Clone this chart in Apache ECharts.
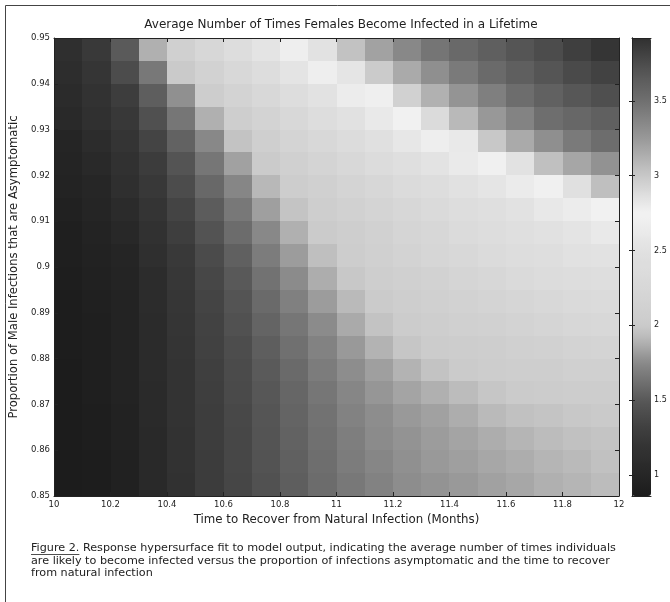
<!DOCTYPE html>
<html>
<head>
<meta charset="utf-8">
<title>Average Number of Times Females Become Infected in a Lifetime</title>
<script src="https://cdn.jsdelivr.net/npm/echarts@6/dist/echarts.min.js"></script>
<style>
  html, body { margin: 0; padding: 0; background: #fff; }
  #chart { width: 670px; height: 602px; }
</style>
</head>
<body>
<div id="chart"></div>
<script>
// cell centres of the fitted surface
const xCenters = [10.05, 10.15, 10.25, 10.35, 10.45, 10.55, 10.65, 10.75, 10.85, 10.95,
                  11.05, 11.15, 11.25, 11.35, 11.45, 11.55, 11.65, 11.75, 11.85, 11.95];
// top row first
const yCenters = [0.9475, 0.9425, 0.9375, 0.9325, 0.9275, 0.9225, 0.9175, 0.9125, 0.9075, 0.9025,
                  0.8975, 0.8925, 0.8875, 0.8825, 0.8775, 0.8725, 0.8675, 0.8625, 0.8575, 0.8525];

// average number of infections (rows follow yCenters)
const surface = [
  [1.13, 1.25, 1.51, 1.88, 2.11, 2.26, 2.40, 2.55, 2.69, 2.85, 3.03, 3.20, 3.35, 3.47, 3.55, 3.62, 3.69, 3.75, 3.83, 3.89],
  [1.10, 1.21, 1.41, 1.66, 2.00, 2.14, 2.27, 2.41, 2.55, 2.68, 2.83, 2.98, 3.16, 3.31, 3.44, 3.54, 3.62, 3.69, 3.76, 3.81],
  [1.07, 1.17, 1.29, 1.53, 1.77, 2.04, 2.16, 2.28, 2.40, 2.52, 2.65, 2.77, 2.95, 3.12, 3.28, 3.41, 3.52, 3.60, 3.67, 3.73],
  [1.04, 1.14, 1.24, 1.44, 1.65, 1.88, 2.06, 2.17, 2.28, 2.39, 2.50, 2.61, 2.72, 2.89, 3.08, 3.25, 3.38, 3.51, 3.56, 3.61],
  [0.99, 1.09, 1.20, 1.35, 1.55, 1.74, 1.96, 2.08, 2.18, 2.28, 2.38, 2.48, 2.58, 2.68, 2.81, 3.00, 3.16, 3.31, 3.44, 3.52],
  [0.97, 1.05, 1.16, 1.28, 1.47, 1.65, 1.83, 2.01, 2.10, 2.18, 2.27, 2.36, 2.45, 2.53, 2.62, 2.71, 2.85, 3.04, 3.18, 3.29],
  [0.95, 1.00, 1.12, 1.24, 1.41, 1.58, 1.73, 1.91, 2.04, 2.11, 2.19, 2.26, 2.34, 2.41, 2.49, 2.56, 2.64, 2.71, 2.86, 3.05],
  [0.93, 0.98, 1.08, 1.20, 1.35, 1.52, 1.66, 1.82, 1.97, 2.05, 2.12, 2.19, 2.25, 2.32, 2.39, 2.45, 2.52, 2.59, 2.66, 2.72],
  [0.91, 0.96, 1.03, 1.16, 1.30, 1.46, 1.60, 1.74, 1.88, 2.01, 2.07, 2.13, 2.20, 2.26, 2.33, 2.39, 2.45, 2.50, 2.55, 2.61],
  [0.90, 0.94, 0.99, 1.12, 1.25, 1.40, 1.54, 1.68, 1.81, 1.94, 2.03, 2.09, 2.16, 2.22, 2.27, 2.33, 2.39, 2.44, 2.49, 2.52],
  [0.89, 0.93, 0.97, 1.09, 1.23, 1.37, 1.50, 1.63, 1.75, 1.87, 1.99, 2.05, 2.10, 2.15, 2.20, 2.25, 2.31, 2.36, 2.40, 2.44],
  [0.88, 0.92, 0.96, 1.09, 1.22, 1.35, 1.47, 1.59, 1.70, 1.81, 1.92, 2.01, 2.06, 2.10, 2.14, 2.18, 2.22, 2.27, 2.31, 2.35],
  [0.87, 0.91, 0.96, 1.08, 1.21, 1.33, 1.45, 1.56, 1.65, 1.75, 1.86, 1.96, 2.02, 2.06, 2.09, 2.13, 2.16, 2.20, 2.24, 2.27],
  [0.87, 0.91, 0.96, 1.07, 1.20, 1.32, 1.42, 1.53, 1.62, 1.71, 1.80, 1.89, 1.98, 2.02, 2.04, 2.07, 2.10, 2.13, 2.16, 2.19],
  [0.86, 0.90, 0.95, 1.07, 1.19, 1.31, 1.40, 1.51, 1.59, 1.68, 1.76, 1.82, 1.89, 1.96, 2.01, 2.03, 2.05, 2.07, 2.09, 2.11],
  [0.86, 0.90, 0.95, 1.06, 1.18, 1.30, 1.39, 1.49, 1.57, 1.65, 1.73, 1.79, 1.84, 1.88, 1.93, 1.98, 2.01, 2.02, 2.03, 2.04],
  [0.86, 0.89, 0.94, 1.06, 1.18, 1.29, 1.38, 1.48, 1.56, 1.63, 1.71, 1.76, 1.80, 1.83, 1.87, 1.92, 1.95, 1.97, 1.99, 2.00],
  [0.86, 0.89, 0.94, 1.05, 1.17, 1.29, 1.37, 1.47, 1.55, 1.62, 1.69, 1.75, 1.78, 1.81, 1.84, 1.87, 1.90, 1.93, 1.95, 1.97],
  [0.86, 0.88, 0.93, 1.05, 1.17, 1.28, 1.37, 1.46, 1.54, 1.61, 1.68, 1.73, 1.77, 1.80, 1.82, 1.85, 1.87, 1.90, 1.92, 1.95],
  [0.86, 0.88, 0.93, 1.04, 1.16, 1.28, 1.36, 1.45, 1.53, 1.60, 1.66, 1.71, 1.76, 1.78, 1.80, 1.83, 1.85, 1.88, 1.90, 1.93]
];

const cbarTicks = [1, 1.5, 2, 2.5, 3, 3.5];
const zMin = 0.86, zMax = 3.92;

// grey level of the colour scale, dark -> white ridge -> dark
const grayStops = [
  [0.86, 28], [1.0, 38], [1.25, 56], [1.5, 88], [1.75, 138], [1.9, 182], [2.0, 203],
  [2.25, 215], [2.5, 225], [2.75, 243], [3.0, 200], [3.25, 152], [3.5, 112], [3.75, 76], [3.92, 48]
];

function grayAt(v) {
  for (let i = 1; i < grayStops.length; i++) {
    const [v0, g0] = grayStops[i - 1], [v1, g1] = grayStops[i];
    if (v <= v1) return g0 + (g1 - g0) * (v - v0) / (v1 - v0);
  }
  return grayStops[grayStops.length - 1][1];
}
const cmap = [];
for (let i = 0; i < 100; i++) {
  const g = Math.round(grayAt(zMin + (zMax - zMin) * i / 99));
  cmap.push(`rgb(${g},${g},${g})`);
}

const cells = [];
surface.forEach((row, r) => row.forEach((v, c) => cells.push([xCenters[c], yCenters[r], v])));
const halfX = (xCenters[1] - xCenters[0]) / 2;
const halfY = (yCenters[0] - yCenters[1]) / 2;

const plot = { left: 51, top: 38, width: 568, height: 458 };
const cbar = { left: 632, top: 38, width: 19, height: 458 };
const font = '"DejaVu Sans", Verdana, sans-serif';
const ink = '#222';
const captionFont = '11.2px ' + font;

// width of the caption label, for its underline
const ctx = document.createElement('canvas').getContext('2d');
ctx.font = captionFont;
const figLabelWidth = ctx.measureText('Figure 2.').width;

const frameAxis = (extra) => Object.assign({
  z: 10,
  axisLine: { show: true, lineStyle: { color: ink, width: 1 } },
  axisTick: { show: true, inside: true, length: 4, lineStyle: { color: ink } },
  splitLine: { show: false },
  axisLabel: { show: false }
}, extra);

const chart = echarts.init(document.getElementById('chart'));
chart.setOption({
  animation: false,
  textStyle: { fontFamily: font },
  title: {
    text: 'Average Number of Times Females Become Infected in a Lifetime',
    left: 336, top: 14, textAlign: 'center',
    textStyle: { fontSize: 12, fontWeight: 'normal', color: ink, fontFamily: font }
  },
  grid: [Object.assign({}, plot), Object.assign({}, cbar)],
  xAxis: [
    frameAxis({
      gridIndex: 0, type: 'value', min: 10, max: 12, interval: 0.2, position: 'bottom',
      axisLabel: { show: true, fontSize: 8.5, color: ink, margin: 4 },
      name: 'Time to Recover from Natural Infection (Months)',
      nameLocation: 'middle', nameGap: 18,
      nameTextStyle: { fontSize: 11.8, color: ink }
    }),
    frameAxis({ gridIndex: 0, type: 'value', min: 10, max: 12, interval: 0.2, position: 'top' }),
    frameAxis({ gridIndex: 1, type: 'value', min: 0, max: 1, position: 'bottom', axisTick: { show: false } }),
    frameAxis({ gridIndex: 1, type: 'value', min: 0, max: 1, position: 'top', axisTick: { show: false } })
  ],
  yAxis: [
    frameAxis({
      gridIndex: 0, type: 'value', min: 0.85, max: 0.95, interval: 0.01, position: 'left',
      axisLabel: { show: true, fontSize: 8.5, color: ink, margin: 4 },
      name: 'Proportion of Male Infections that are Asymptomatic',
      nameLocation: 'middle', nameGap: 34,
      nameTextStyle: { fontSize: 11.6, color: ink }
    }),
    frameAxis({ gridIndex: 0, type: 'value', min: 0.85, max: 0.95, interval: 0.01, position: 'right' }),
    frameAxis({
      gridIndex: 1, type: 'value', min: zMin, max: zMax, position: 'left',
      axisTick: { show: true, inside: true, length: 3, customValues: cbarTicks, lineStyle: { color: ink } }
    }),
    frameAxis({
      gridIndex: 1, type: 'value', min: zMin, max: zMax, position: 'right',
      axisTick: { show: true, inside: true, length: 3, customValues: cbarTicks, lineStyle: { color: ink } },
      axisLabel: { show: true, customValues: cbarTicks, fontSize: 8, color: ink, margin: 3 }
    })
  ],
  visualMap: {
    type: 'continuous', min: zMin, max: zMax, seriesIndex: 0, dimension: 2,
    orient: 'vertical', left: cbar.left, top: cbar.top,
    itemWidth: cbar.width, itemHeight: cbar.height, padding: 0,
    calculable: false, hoverLink: false, text: null,
    inRange: { color: cmap }
  },
  series: [{
    type: 'custom',
    xAxisIndex: 0, yAxisIndex: 0,
    data: cells,
    encode: { x: 0, y: 1 },
    renderItem(params, api) {
      const x = api.value(0), y = api.value(1);
      const p0 = api.coord([x - halfX, y + halfY]);
      const p1 = api.coord([x + halfX, y - halfY]);
      const x0 = Math.round(p0[0]), y0 = Math.round(p0[1]);
      const x1 = Math.round(p1[0]), y1 = Math.round(p1[1]);
      return {
        type: 'rect',
        shape: { x: x0, y: y0, width: x1 - x0, height: y1 - y0 },
        style: { fill: api.visual('color') }
      };
    }
  }],
  graphic: [
    { type: 'polyline', silent: true, shape: { points: [[5.5, 602], [5.5, 5.5], [670, 5.5]] },
      style: { stroke: '#444', lineWidth: 1, fill: null } },
    { type: 'text', left: 31, top: 542, silent: true,
      style: {
        text: 'Figure 2. Response hypersurface fit to model output, indicating the average number of times individuals\n' +
              'are likely to become infected versus the proportion of infections asymptomatic and the time to recover\n' +
              'from natural infection',
        font: captionFont, lineHeight: 12.5, fill: ink
      } },
    { type: 'line', silent: true, shape: { x1: 31, y1: 554.5, x2: 31 + figLabelWidth, y2: 554.5 },
      style: { stroke: ink, lineWidth: 0.8 } }
  ]
});
</script>
</body>
</html>
